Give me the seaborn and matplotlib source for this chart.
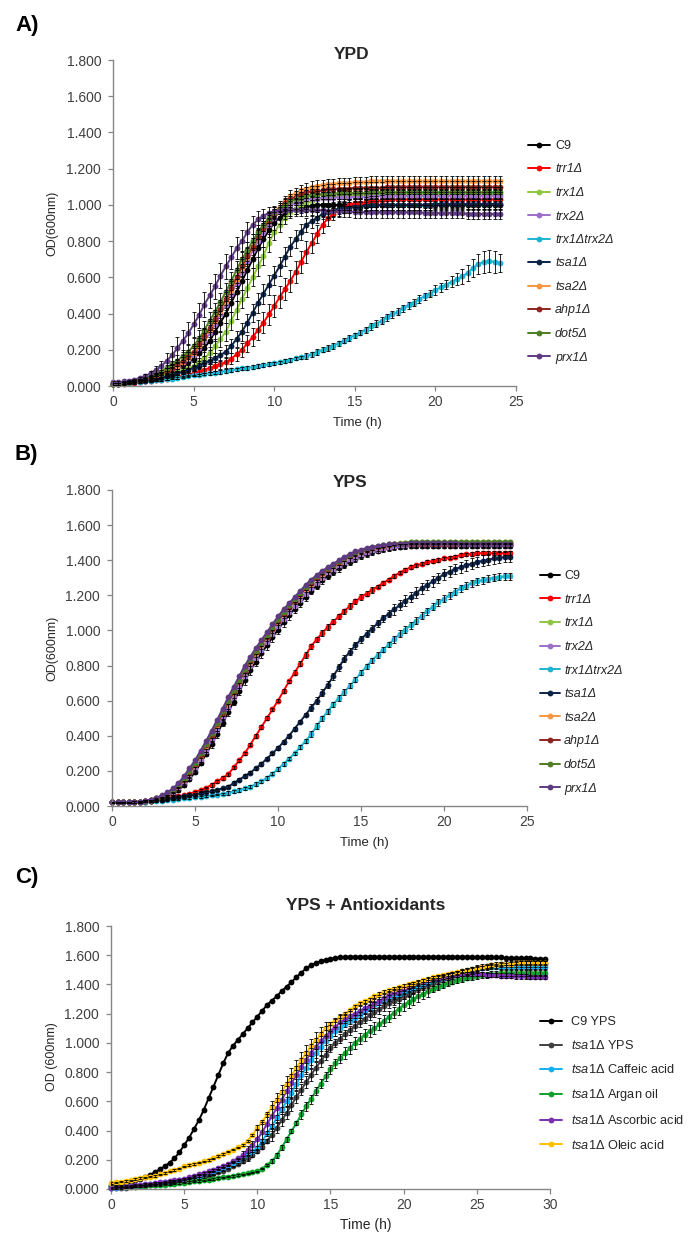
import numpy as np
import pandas as pd
import seaborn as sns
import matplotlib
matplotlib.use("Agg")
import matplotlib.pyplot as plt
from matplotlib.lines import Line2D
from matplotlib.ticker import FormatStrFormatter

W, H = 689, 1234
STEP_H = 1 / 3  # one reading every 20 minutes

# ---------------- A) YPD ----------------
A_NAMES = ["C9", "trr1Δ", "trx1Δ", "trx2Δ", "trx1Δtrx2Δ", "tsa1Δ", "tsa2Δ", "ahp1Δ", "dot5Δ", "prx1Δ"]

A_C9 = [.01, .012, .015, .02, .025, .03, .04, .045, .05, .06, .07, .085,
        .10, .115, .13, .15, .18, .21, .25, .30, .35, .40, .46, .52,
        .58, .64, .70, .76, .81, .86, .90, .93, .95, .97, .98, .985,
        .99, .995, 1.0, 1.0, 1.0, 1.0, 1.0, 1.0, 1.0, 1.0, 1.0, 1.0,
        1.0, 1.0, 1.0, 1.0, 1.0, 1.0, 1.0, 1.0, 1.0, 1.0, 1.0, 1.0,
        1.0, 1.0, 1.0, 1.0, 1.0, 1.0, 1.0, 1.0, 1.0, 1.0, 1.0, 1.0,
        1.0]
A_TRR1 = [.01, .01, .012, .015, .018, .021, .025, .028, .031, .035, .04, .045,
          .05, .057, .063, .07, .08, .09, .10, .11, .12, .13, .15, .175,
          .20, .235, .27, .31, .35, .395, .44, .49, .535, .58, .63, .685,
          .74, .79, .84, .89, .925, .95, .97, .985, 1.0, 1.01, 1.01, 1.015,
          1.02, 1.02, 1.025, 1.03, 1.03, 1.03, 1.03, 1.03, 1.03, 1.03, 1.03, 1.03,
          1.03, 1.03, 1.03, 1.03, 1.03, 1.03, 1.03, 1.03, 1.03, 1.03, 1.03, 1.03,
          1.03]
A_TRX1 = [.01, .013, .016, .02, .025, .03, .035, .04, .048, .055, .063, .071,
          .08, .09, .10, .11, .13, .155, .18, .22, .26, .30, .36, .42,
          .48, .54, .60, .66, .72, .79, .85, .89, .93, .96, .98, 1.0,
          1.01, 1.02, 1.03, 1.04, 1.04, 1.045, 1.05, 1.05, 1.055, 1.06, 1.06, 1.06,
          1.06, 1.06, 1.06, 1.06, 1.06, 1.06, 1.06, 1.06, 1.06, 1.06, 1.06, 1.06,
          1.06, 1.06, 1.06, 1.06, 1.06, 1.06, 1.06, 1.06, 1.06, 1.06, 1.06, 1.06,
          1.06]
A_TRX2 = [.01, .013, .016, .02, .026, .033, .04, .05, .06, .07, .083, .096,
          .11, .13, .15, .17, .21, .25, .29, .34, .40, .45, .51, .57,
          .63, .69, .75, .80, .85, .89, .93, .96, .98, 1.0, 1.01, 1.02,
          1.03, 1.035, 1.035, 1.04, 1.04, 1.04, 1.045, 1.045, 1.045, 1.045, 1.045, 1.045,
          1.05, 1.05, 1.05, 1.05, 1.05, 1.05, 1.05, 1.05, 1.05, 1.05, 1.05, 1.05,
          1.05, 1.05, 1.05, 1.05, 1.05, 1.05, 1.05, 1.05, 1.05, 1.05, 1.05, 1.05,
          1.05]
A_TRX1TRX2 = [.01, .013, .015, .018, .021, .024, .027, .03, .032, .035, .038, .041,
              .045, .049, .053, .058, .062, .066, .07, .074, .079, .083, .088, .092,
              .097, .10, .105, .11, .115, .12, .125, .13, .138, .145, .152, .158,
              .165, .175, .187, .20, .21, .222, .235, .25, .265, .28, .295, .31,
              .33, .345, .36, .38, .395, .41, .43, .445, .46, .48, .495, .51,
              .53, .545, .56, .575, .59, .605, .625, .65, .675, .685, .69, .685,
              .68]
A_TSA1 = [.01, .013, .017, .02, .023, .027, .03, .035, .04, .045, .053, .061,
          .07, .08, .09, .10, .113, .126, .14, .155, .17, .19, .22, .26,
          .30, .35, .405, .46, .51, .56, .61, .66, .715, .77, .81, .85,
          .89, .91, .93, .95, .96, .97, .98, .985, .985, .99, .99, .995,
          1.0, 1.0, 1.0, 1.0, 1.0, 1.0, 1.0, 1.0, 1.0, 1.0, 1.0, 1.0,
          1.005, 1.005, 1.005, 1.005, 1.005, 1.005, 1.005, 1.005, 1.005, 1.005, 1.005, 1.005,
          1.005]
A_TSA2 = [.01, .013, .016, .02, .026, .033, .04, .05, .06, .07, .082, .095,
          .11, .13, .155, .18, .22, .265, .31, .36, .415, .47, .53, .59,
          .65, .71, .765, .82, .87, .92, .96, .99, 1.02, 1.05, 1.065, 1.08,
          1.09, 1.10, 1.105, 1.11, 1.115, 1.115, 1.12, 1.12, 1.12, 1.125, 1.125, 1.125,
          1.13, 1.13, 1.13, 1.13, 1.13, 1.13, 1.13, 1.13, 1.13, 1.13, 1.13, 1.13,
          1.13, 1.13, 1.13, 1.13, 1.13, 1.13, 1.13, 1.13, 1.13, 1.13, 1.13, 1.13,
          1.13]
A_AHP1 = [.01, .013, .016, .02, .026, .033, .04, .05, .06, .07, .085, .10,
          .12, .14, .165, .19, .23, .275, .32, .37, .425, .48, .54, .60,
          .66, .72, .77, .82, .87, .91, .95, .98, 1.01, 1.03, 1.045, 1.06,
          1.07, 1.075, 1.075, 1.08, 1.085, 1.085, 1.09, 1.09, 1.09, 1.095, 1.095, 1.095,
          1.095, 1.095, 1.095, 1.10, 1.10, 1.10, 1.10, 1.10, 1.10, 1.10, 1.10, 1.10,
          1.10, 1.10, 1.10, 1.10, 1.10, 1.10, 1.10, 1.10, 1.10, 1.10, 1.10, 1.10,
          1.10]
A_DOT5 = [.01, .013, .016, .02, .028, .036, .045, .055, .067, .08, .10, .12,
          .14, .165, .19, .22, .26, .31, .36, .41, .465, .52, .58, .64,
          .70, .75, .80, .85, .89, .93, .96, .98, 1.0, 1.02, 1.03, 1.04,
          1.05, 1.055, 1.055, 1.06, 1.06, 1.06, 1.065, 1.065, 1.065, 1.065, 1.065, 1.065,
          1.07, 1.07, 1.07, 1.07, 1.07, 1.07, 1.07, 1.07, 1.07, 1.07, 1.07, 1.07,
          1.07, 1.07, 1.07, 1.07, 1.07, 1.07, 1.07, 1.07, 1.07, 1.07, 1.07, 1.07,
          1.07]
A_PRX1 = [.02, .02, .025, .03, .035, .045, .055, .07, .09, .11, .14, .17,
          .21, .25, .29, .34, .39, .45, .50, .55, .61, .66, .71, .76,
          .80, .85, .89, .92, .94, .955, .965, .97, .97, .97, .97, .97,
          .97, .97, .97, .97, .965, .965, .965, .965, .965, .96, .96, .96,
          .96, .96, .96, .96, .96, .96, .96, .96, .96, .96, .955, .955,
          .955, .955, .955, .955, .955, .955, .95, .95, .95, .95, .95, .95,
          .95]

# standard deviations, YPD
A_C9_SD = [.005] * 9 + [.01, .015, .02, .025, .03, .035, .04, .04, .045, .05, .05, .05,
                        .05, .05, .05, .05, .05, .05, .05, .045, .04, .04, .035, .03] + [.03] * 40
A_TRR1_SD = [.005] * 12 + [.01] * 3 + [.015, .015, .02, .02, .025, .025, .03, .03, .035,
                                       .04, .045, .05, .055, .06, .06, .06, .06, .06,
                                       .06, .06, .06, .06, .055, .05, .045, .04, .035] + [.03] * 31
A_TRX1_SD = [.005] * 9 + [.01] * 3 + [.015] * 3 + [.02, .025, .03, .035, .04, .045, .05, .05, .05,
                                                   .05, .05, .05, .05, .05, .05, .045, .04, .035] + [.03] * 40
A_TRX2_SD = [.005] * 9 + [.01, .015, .02, .025, .03, .035, .04, .04, .045, .045, .045, .045,
                          .045, .045, .045, .045, .045, .045, .04, .04, .035] + [.03] * 43
A_TRX1TRX2_SD = [.005] * 18 + [.01] * 18 + [.015] * 12 + [.02] * 12 + [.025] * 3 + \
                [.03, .035, .04, .045, .05, .055, .06, .06, .06, .05]
A_TSA1_SD = [.005] * 12 + [.01] * 3 + [.015] * 3 + [.02, .025, .03, .035, .04, .045, .05, .05, .05,
                                                    .055, .055, .055, .055, .055, .055, .05, .05, .045,
                                                    .04, .035, .03] + [.03] * 34
A_TSA2_SD = [.005] * 9 + [.01, .015, .02, .025, .03, .035, .04, .045, .05, .05, .05, .05,
                          .05, .05, .05, .05, .05, .05, .045, .04, .035] + [.03] * 43
A_AHP1_SD = [.005] * 9 + [.01, .015, .02, .025, .03, .035, .04, .045, .045, .05, .05, .05,
                          .05, .05, .05, .05, .045, .045, .04, .04, .035] + [.03] * 43
A_DOT5_SD = [.005] * 9 + [.01, .015, .02, .03, .035, .04, .045, .05, .05, .05, .05, .05,
                          .05, .05, .05, .045, .045, .04, .04, .035, .03] + [.03] * 43
A_PRX1_SD = [.005] * 6 + [.01, .015, .02, .03, .04, .05, .06, .06, .065, .07, .07, .07,
                          .07, .07, .07, .07, .065, .06, .06, .055, .05, .045, .04, .035] + [.03] * 43

# ---------------- B) YPS ----------------
B_C9 = [.02, .02, .02, .02, .021, .022, .025, .03, .035, .044, .055, .07,
        .09, .118, .153, .193, .243, .295, .352, .41, .475, .535, .595, .655,
        .715, .772, .823, .87, .915, .96, 1.005, 1.047, 1.087, 1.123, 1.158, 1.193,
        1.225, 1.255, 1.285, 1.312, 1.335, 1.355, 1.375, 1.392, 1.408, 1.422, 1.434, 1.445,
        1.455, 1.462, 1.468, 1.473, 1.477, 1.48, 1.483, 1.483, 1.483, 1.483, 1.483, 1.483,
        1.483, 1.483, 1.483, 1.483, 1.483, 1.483, 1.483, 1.483, 1.483, 1.483, 1.483, 1.483,
        1.483]
B_TRR1 = [.02, .02, .02, .02, .022, .025, .028, .031, .035, .04, .045, .05,
          .055, .06, .07, .08, .09, .105, .12, .14, .16, .18, .22, .26,
          .30, .35, .40, .45, .50, .55, .60, .655, .71, .76, .81, .86,
          .91, .95, .985, 1.02, 1.05, 1.08, 1.11, 1.14, 1.165, 1.19, 1.21, 1.23,
          1.25, 1.27, 1.29, 1.31, 1.33, 1.345, 1.36, 1.37, 1.38, 1.39, 1.395, 1.40,
          1.41, 1.415, 1.42, 1.43, 1.433, 1.436, 1.44, 1.44, 1.44, 1.44, 1.44, 1.44,
          1.44]
B_TRX1 = [.02, .02, .02, .02, .022, .025, .03, .035, .043, .055, .07, .09,
          .116, .15, .19, .236, .29, .346, .406, .466, .53, .59, .65, .71,
          .77, .825, .875, .92, .965, 1.01, 1.055, 1.095, 1.135, 1.17, 1.205, 1.24,
          1.27, 1.30, 1.325, 1.35, 1.37, 1.39, 1.41, 1.425, 1.44, 1.45, 1.46, 1.47,
          1.478, 1.484, 1.49, 1.495, 1.50, 1.50, 1.505, 1.505, 1.505, 1.505, 1.505, 1.505,
          1.505, 1.505, 1.505, 1.505, 1.505, 1.505, 1.505, 1.505, 1.505, 1.505, 1.505, 1.505,
          1.505]
B_TRX2 = [.02, .02, .02, .02, .021, .023, .027, .032, .038, .048, .06, .077,
          .10, .13, .168, .21, .262, .316, .375, .435, .50, .56, .62, .68,
          .74, .795, .845, .89, .935, .98, 1.025, 1.065, 1.105, 1.14, 1.175, 1.21,
          1.24, 1.27, 1.30, 1.325, 1.345, 1.365, 1.385, 1.40, 1.415, 1.43, 1.44, 1.45,
          1.46, 1.465, 1.47, 1.475, 1.48, 1.48, 1.485, 1.485, 1.485, 1.485, 1.485, 1.485,
          1.485, 1.485, 1.485, 1.485, 1.485, 1.485, 1.485, 1.485, 1.485, 1.485, 1.485, 1.485,
          1.485]
B_TRX1TRX2 = [.02, .02, .02, .02, .021, .023, .025, .027, .028, .03, .033, .037,
              .04, .043, .047, .05, .053, .057, .06, .065, .07, .075, .083, .091,
              .10, .11, .125, .14, .16, .185, .21, .24, .27, .30, .335, .37,
              .41, .455, .50, .54, .58, .615, .65, .685, .72, .76, .795, .83,
              .86, .89, .92, .95, .98, 1.005, 1.03, 1.055, 1.085, 1.11, 1.135, 1.16,
              1.18, 1.20, 1.22, 1.24, 1.255, 1.27, 1.28, 1.287, 1.294, 1.30, 1.305, 1.308,
              1.31]
B_TSA1 = [.02, .02, .02, .02, .022, .025, .028, .03, .032, .035, .04, .045,
          .05, .055, .06, .065, .072, .078, .085, .093, .10, .11, .13, .15,
          .17, .19, .215, .24, .27, .30, .33, .365, .40, .44, .48, .52,
          .56, .60, .645, .69, .74, .79, .84, .88, .915, .95, .98, 1.01,
          1.04, 1.07, 1.095, 1.12, 1.145, 1.17, 1.19, 1.215, 1.24, 1.26, 1.28, 1.30,
          1.32, 1.335, 1.35, 1.36, 1.37, 1.38, 1.39, 1.397, 1.403, 1.41, 1.415, 1.418,
          1.42]
B_TSA2 = [.02, .02, .02, .02, .022, .025, .03, .035, .042, .054, .069, .089,
          .113, .148, .188, .232, .287, .342, .402, .462, .527, .587, .647, .707,
          .767, .822, .872, .917, .962, 1.007, 1.052, 1.092, 1.132, 1.167, 1.202, 1.237,
          1.267, 1.297, 1.322, 1.347, 1.367, 1.387, 1.407, 1.422, 1.437, 1.447, 1.457, 1.467,
          1.474, 1.48, 1.485, 1.49, 1.49, 1.495, 1.50, 1.50, 1.50, 1.50, 1.50, 1.50,
          1.50, 1.50, 1.50, 1.50, 1.50, 1.50, 1.50, 1.50, 1.50, 1.50, 1.50, 1.50,
          1.50]
B_AHP1 = [.02, .02, .02, .02, .022, .025, .03, .035, .043, .055, .07, .09,
          .115, .15, .19, .235, .29, .345, .405, .465, .53, .59, .65, .71,
          .77, .825, .875, .92, .965, 1.01, 1.055, 1.095, 1.135, 1.17, 1.205, 1.24,
          1.27, 1.30, 1.325, 1.35, 1.37, 1.39, 1.41, 1.425, 1.44, 1.45, 1.46, 1.47,
          1.475, 1.48, 1.485, 1.49, 1.49, 1.495, 1.495, 1.495, 1.495, 1.495, 1.495, 1.495,
          1.495, 1.495, 1.495, 1.495, 1.495, 1.495, 1.495, 1.495, 1.495, 1.495, 1.495, 1.495,
          1.495]
B_DOT5 = [.02, .02, .02, .02, .022, .025, .03, .036, .044, .056, .072, .093,
          .12, .155, .20, .245, .30, .355, .415, .475, .54, .60, .66, .72,
          .78, .835, .885, .93, .975, 1.02, 1.065, 1.105, 1.145, 1.18, 1.215, 1.25,
          1.28, 1.31, 1.335, 1.355, 1.375, 1.395, 1.415, 1.43, 1.445, 1.455, 1.465, 1.475,
          1.48, 1.485, 1.49, 1.495, 1.495, 1.50, 1.505, 1.505, 1.505, 1.505, 1.505, 1.505,
          1.505, 1.505, 1.505, 1.505, 1.505, 1.505, 1.505, 1.505, 1.505, 1.505, 1.505, 1.505,
          1.505]
B_PRX1 = [.02, .02, .02, .02, .022, .025, .03, .037, .046, .06, .078, .10,
          .13, .17, .215, .26, .315, .37, .43, .49, .555, .62, .68, .74,
          .80, .85, .90, .945, .99, 1.035, 1.08, 1.12, 1.155, 1.19, 1.225, 1.26,
          1.29, 1.315, 1.34, 1.36, 1.38, 1.40, 1.42, 1.435, 1.45, 1.46, 1.47, 1.475,
          1.48, 1.485, 1.49, 1.49, 1.495, 1.495, 1.50, 1.50, 1.50, 1.50, 1.50, 1.50,
          1.50, 1.50, 1.50, 1.495, 1.495, 1.495, 1.495, 1.495, 1.495, 1.495, 1.495, 1.495,
          1.495]

# standard deviations, YPS (the closely overlapping strains carry no visible bars)
B_C9_SD = [.005] * 12 + [.01] * 6 + [.02] * 6 + [.025] * 12 + [.02] * 9 + [.015] * 28
B_TRR1_SD = [.005] * 18 + [.01] * 15 + [.015] * 15 + [.01] * 25
B_TRX2_SD = [.005] * 12 + [.01] * 9 + [.02] * 18 + [.01] * 34
B_TRX1TRX2_SD = [.005] * 21 + [.01] * 15 + [.015] * 15 + [.02] * 22
B_TSA1_SD = [.005] * 21 + [.01] * 15 + [.02] * 15 + [.03] * 22

# ---------------- C) YPS + antioxidants ----------------
C_NAMES = ["C9 YPS", "tsa1Δ YPS", "tsa1Δ Caffeic acid", "tsa1Δ Argan oil",
           "tsa1Δ Ascorbic acid", "tsa1Δ Oleic acid"]

C_C9 = [.02, .025, .032, .04, .05, .06, .07, .082, .097, .115, .135, .155,
        .18, .21, .25, .30, .35, .41, .47, .54, .62, .70, .78, .86,
        .93, .98, 1.02, 1.06, 1.10, 1.14, 1.18, 1.22, 1.26, 1.29, 1.32, 1.355,
        1.385, 1.415, 1.45, 1.48, 1.51, 1.53, 1.545, 1.56, 1.57, 1.575, 1.58, 1.585,
        1.59, 1.59, 1.59, 1.59, 1.59, 1.59, 1.59, 1.59, 1.59, 1.59, 1.59, 1.59,
        1.59, 1.59, 1.59, 1.59, 1.59, 1.59, 1.59, 1.59, 1.59, 1.59, 1.59, 1.59,
        1.59, 1.59, 1.59, 1.585, 1.585, 1.585, 1.585, 1.585, 1.585, 1.58, 1.58, 1.58,
        1.58, 1.58, 1.58, 1.575, 1.575, 1.575]
C_TSA1 = [.005, .007, .008, .01, .013, .017, .02, .023, .027, .03, .033, .037,
          .04, .045, .05, .055, .062, .068, .075, .083, .091, .10, .113, .126,
          .14, .155, .172, .19, .21, .235, .26, .29, .33, .37, .42, .47,
          .52, .575, .63, .68, .73, .78, .83, .875, .92, .965, 1.0, 1.03,
          1.06, 1.087, 1.113, 1.14, 1.165, 1.19, 1.21, 1.23, 1.25, 1.27, 1.287, 1.303,
          1.32, 1.337, 1.353, 1.37, 1.383, 1.397, 1.41, 1.423, 1.437, 1.45, 1.46, 1.47,
          1.48, 1.49, 1.50, 1.51, 1.517, 1.523, 1.53, 1.533, 1.537, 1.54, 1.54, 1.54,
          1.54, 1.54, 1.54, 1.54, 1.54, 1.54]
C_CAFFEIC = [.005, .008, .011, .015, .018, .022, .025, .028, .032, .035, .04, .045,
             .05, .055, .06, .065, .073, .081, .09, .10, .11, .12, .133, .146,
             .16, .18, .20, .22, .24, .26, .28, .33, .38, .43, .49, .545,
             .60, .66, .72, .78, .83, .88, .93, .975, 1.015, 1.05, 1.08, 1.105,
             1.13, 1.15, 1.17, 1.19, 1.215, 1.24, 1.26, 1.277, 1.293, 1.31, 1.323, 1.337,
             1.35, 1.363, 1.377, 1.39, 1.403, 1.417, 1.43, 1.44, 1.45, 1.46, 1.47, 1.48,
             1.49, 1.497, 1.503, 1.51, 1.513, 1.517, 1.52, 1.52, 1.52, 1.52, 1.52, 1.52,
             1.52, 1.52, 1.52, 1.52, 1.52, 1.52]
C_ARGAN = [.03, .025, .02, .018, .018, .018, .02, .022, .024, .026, .028, .03,
           .033, .036, .04, .044, .048, .052, .056, .06, .065, .07, .075, .08,
           .085, .09, .095, .10, .107, .113, .12, .14, .165, .19, .23, .285,
           .34, .395, .45, .51, .565, .615, .67, .72, .77, .82, .86, .895,
           .93, .965, 1.0, 1.03, 1.055, 1.08, 1.10, 1.127, 1.153, 1.18, 1.207, 1.233,
           1.26, 1.28, 1.30, 1.32, 1.337, 1.353, 1.37, 1.383, 1.397, 1.41, 1.42, 1.43,
           1.44, 1.447, 1.453, 1.46, 1.463, 1.467, 1.47, 1.473, 1.477, 1.48, 1.48, 1.48,
           1.48, 1.48, 1.48, 1.48, 1.48, 1.48]
C_ASCORBIC = [.01, .013, .016, .02, .023, .027, .03, .033, .037, .04, .045, .05,
              .055, .06, .065, .07, .08, .09, .10, .11, .12, .13, .143, .156,
              .17, .19, .21, .23, .265, .30, .34, .39, .445, .50, .555, .61,
              .67, .725, .78, .835, .885, .93, .975, 1.01, 1.045, 1.08, 1.11, 1.14,
              1.165, 1.185, 1.20, 1.22, 1.237, 1.253, 1.27, 1.287, 1.305, 1.325, 1.34, 1.355,
              1.37, 1.385, 1.40, 1.41, 1.42, 1.43, 1.44, 1.447, 1.453, 1.46, 1.463, 1.467,
              1.47, 1.47, 1.47, 1.47, 1.47, 1.465, 1.465, 1.465, 1.46, 1.46, 1.46, 1.455,
              1.455, 1.455, 1.45, 1.45, 1.45, 1.45]
C_OLEIC = [.04, .045, .05, .055, .06, .068, .075, .08, .085, .09, .10, .11,
           .12, .13, .14, .155, .163, .17, .18, .19, .20, .21, .225, .24,
           .255, .27, .285, .30, .33, .37, .42, .46, .51, .56, .61, .665,
           .72, .775, .83, .88, .93, .98, 1.02, 1.06, 1.10, 1.13, 1.155, 1.18,
           1.20, 1.225, 1.25, 1.27, 1.285, 1.30, 1.32, 1.335, 1.35, 1.36, 1.37, 1.38,
           1.39, 1.40, 1.41, 1.42, 1.43, 1.44, 1.45, 1.457, 1.463, 1.47, 1.477, 1.483,
           1.49, 1.497, 1.503, 1.51, 1.517, 1.523, 1.53, 1.533, 1.537, 1.54, 1.543, 1.547,
           1.55, 1.55, 1.55, 1.55, 1.55, 1.55]

# standard deviations, YPS + antioxidants
C_TSA1_SD = [.005] * 27 + [.015] * 6 + [.04] * 12 + [.03] * 15 + [.02] * 30
C_CAFFEIC_SD = [.005] * 30 + [.015] * 6 + [.03] * 12 + [.02] * 12 + [.015] * 30
C_ARGAN_SD = [.005] * 33 + [.015] * 6 + [.03] * 9 + [.04] * 18 + [.02] * 24
C_ASCORBIC_SD = [.005] * 27 + [.03] * 3 + [.07] * 3 + [.1] * 12 + [.06] * 3 + [.03] * 12 + [.015] * 30
C_OLEIC_SD = [.005] * 30 + [.015] * 15 + [.01] * 45

AB_COLORS = ["#000000", "#FF0000", "#8DC63F", "#9D6FC8", "#1CB4D0",
             "#0B2447", "#F7963E", "#8E2420", "#4E7D24", "#5E3B80"]
C_COLORS = ["#000000", "#404040", "#13AFEF", "#10A02C", "#7A2FB0", "#FFC000"]

# ---------------- drawing ----------------
sns.set_style("ticks")
plt.rcParams["font.family"] = ["Liberation Sans", "DejaVu Sans"]
plt.rcParams["mathtext.fontset"] = "custom"
plt.rcParams["mathtext.rm"] = "Liberation Sans"
plt.rcParams["mathtext.it"] = "Liberation Sans:italic"
plt.rcParams["mathtext.bf"] = "Liberation Sans:bold"

AXIS_GREY = "#868686"
TEXT_GREY = "#404040"
MS, LW = 4.2, 1.4

fig = plt.figure(figsize=(W / 100, H / 100), dpi=100)
fig.patch.set_facecolor("white")


def px_rect(left, top, right, bottom):
    return [left / W, 1 - bottom / H, (right - left) / W, (bottom - top) / H]


def ftext(x, y, s, **kw):
    fig.text(x / W, 1 - y / H, s, **kw)


def draw_growth(ax, names, series, sds, colors, xmax):
    frames = []
    for name, vals in zip(names, series):
        hours = np.arange(len(vals)) * STEP_H
        frames.append(pd.DataFrame({"hours": hours, "od": vals, "strain": name}))
    df = pd.concat(frames, ignore_index=True)
    sns.lineplot(data=df, x="hours", y="od", hue="strain", hue_order=names,
                 palette=dict(zip(names, colors)), marker="o", markersize=MS,
                 markeredgewidth=0, linewidth=LW, estimator=None, sort=False,
                 errorbar=None, legend=False, ax=ax)
    for line in ax.lines:
        line.set_clip_on(False)
    for vals, sd in zip(series, sds):
        if sd is None:
            continue
        hours = np.arange(len(vals)) * STEP_H
        ax.errorbar(hours, vals, yerr=sd, fmt="none", ecolor="black",
                    elinewidth=0.6, capsize=1.7, capthick=0.6, zorder=3)
    ax.set_xlim(0, xmax)
    ax.set_ylim(0, 1.8)
    ax.set_xticks(np.arange(0, xmax + 1, 5))
    ax.set_yticks(np.arange(0, 1.81, 0.2))
    ax.yaxis.set_major_formatter(FormatStrFormatter("%.3f"))
    ax.set_xlabel("")
    ax.set_ylabel("")
    sns.despine(ax=ax)
    for side in ("left", "bottom"):
        ax.spines[side].set_color(AXIS_GREY)
        ax.spines[side].set_linewidth(1.0)
    ax.tick_params(axis="both", direction="out", length=3.5, width=0.9,
                   color=AXIS_GREY, labelsize=10, labelcolor=TEXT_GREY)
    ax.tick_params(axis="y", pad=5)
    ax.tick_params(axis="x", pad=3)
    ax.set_facecolor("white")


def add_legend(colors, labels, x, y, fontsize, handlelength, textpad, spacing, italic_all=False):
    handles = [Line2D([], [], color=c, marker="o", markersize=MS, markeredgewidth=0, lw=LW)
               for c in colors]
    leg = fig.legend(handles, labels, loc="upper left",
                     bbox_to_anchor=(x / W, 1 - y / H), bbox_transform=fig.transFigure,
                     frameon=False, fontsize=fontsize, handlelength=handlelength,
                     handletextpad=textpad, labelspacing=spacing, borderpad=0,
                     borderaxespad=0)
    for txt in leg.get_texts():
        txt.set_color("#262626")
        if italic_all and txt.get_text() != "C9":
            txt.set_fontstyle("italic")
    return leg


# A) YPD
ax_a = fig.add_axes(px_rect(113, 60, 516, 386))
draw_growth(ax_a, A_NAMES,
            [A_C9, A_TRR1, A_TRX1, A_TRX2, A_TRX1TRX2, A_TSA1, A_TSA2, A_AHP1, A_DOT5, A_PRX1],
            [A_C9_SD, A_TRR1_SD, A_TRX1_SD, A_TRX2_SD, A_TRX1TRX2_SD, A_TSA1_SD,
             A_TSA2_SD, A_AHP1_SD, A_DOT5_SD, A_PRX1_SD],
            AB_COLORS, 25)
add_legend(AB_COLORS, A_NAMES, 528, 140, 9, 1.76, 0.4, 0.92, italic_all=True)

# B) YPS
ax_b = fig.add_axes(px_rect(112, 490, 527, 806))
draw_growth(ax_b, A_NAMES,
            [B_C9, B_TRR1, B_TRX1, B_TRX2, B_TRX1TRX2, B_TSA1, B_TSA2, B_AHP1, B_DOT5, B_PRX1],
            [B_C9_SD, B_TRR1_SD, None, B_TRX2_SD, B_TRX1TRX2_SD, B_TSA1_SD,
             None, None, None, None],
            AB_COLORS, 25)
add_legend(AB_COLORS, A_NAMES, 540, 570, 9, 1.6, 0.32, 0.93, italic_all=True)

# C) YPS + antioxidants
ax_c = fig.add_axes(px_rect(111, 926, 550, 1189))
draw_growth(ax_c, C_NAMES,
            [C_C9, C_TSA1, C_CAFFEIC, C_ARGAN, C_ASCORBIC, C_OLEIC],
            [None, C_TSA1_SD, C_CAFFEIC_SD, C_ARGAN_SD, C_ASCORBIC_SD, C_OLEIC_SD],
            C_COLORS, 30)
c_labels = ["C9 YPS"] + [r"$\mathit{tsa1Δ}$" + name[len("tsa1Δ"):] for name in C_NAMES[1:]]
add_legend(C_COLORS, c_labels, 540, 1016, 9.2, 1.75, 0.7, 0.87)

# titles, panel letters and axis titles
for label, y in (("A)", 31), ("B)", 460), ("C)", 883)):
    ftext(15, y, label, fontsize=16, fontweight="bold", va="baseline", ha="left", color="black")
ftext(352, 59, "YPD", fontsize=12.5, fontweight="bold", ha="center", va="baseline")
ftext(350, 487, "YPS", fontsize=12.5, fontweight="bold", ha="center", va="baseline")
ftext(366, 910, "YPS + Antioxidants", fontsize=12.5, fontweight="bold", ha="center", va="baseline")

for x, y, fs in ((357, 426, 9.5), (364, 846, 9.5), (366, 1229, 10)):
    ftext(x, y, "Time (h)", fontsize=fs, ha="center", va="baseline", color="#262626")
for y, s in ((223, "OD(600nm)"), (648, "OD(600nm)"), (1057, "OD (600nm)")):
    ftext(52, y, s, fontsize=9, rotation=90, ha="center", va="center", color="#262626")

fig.savefig("out.png", dpi=100, facecolor="white")
